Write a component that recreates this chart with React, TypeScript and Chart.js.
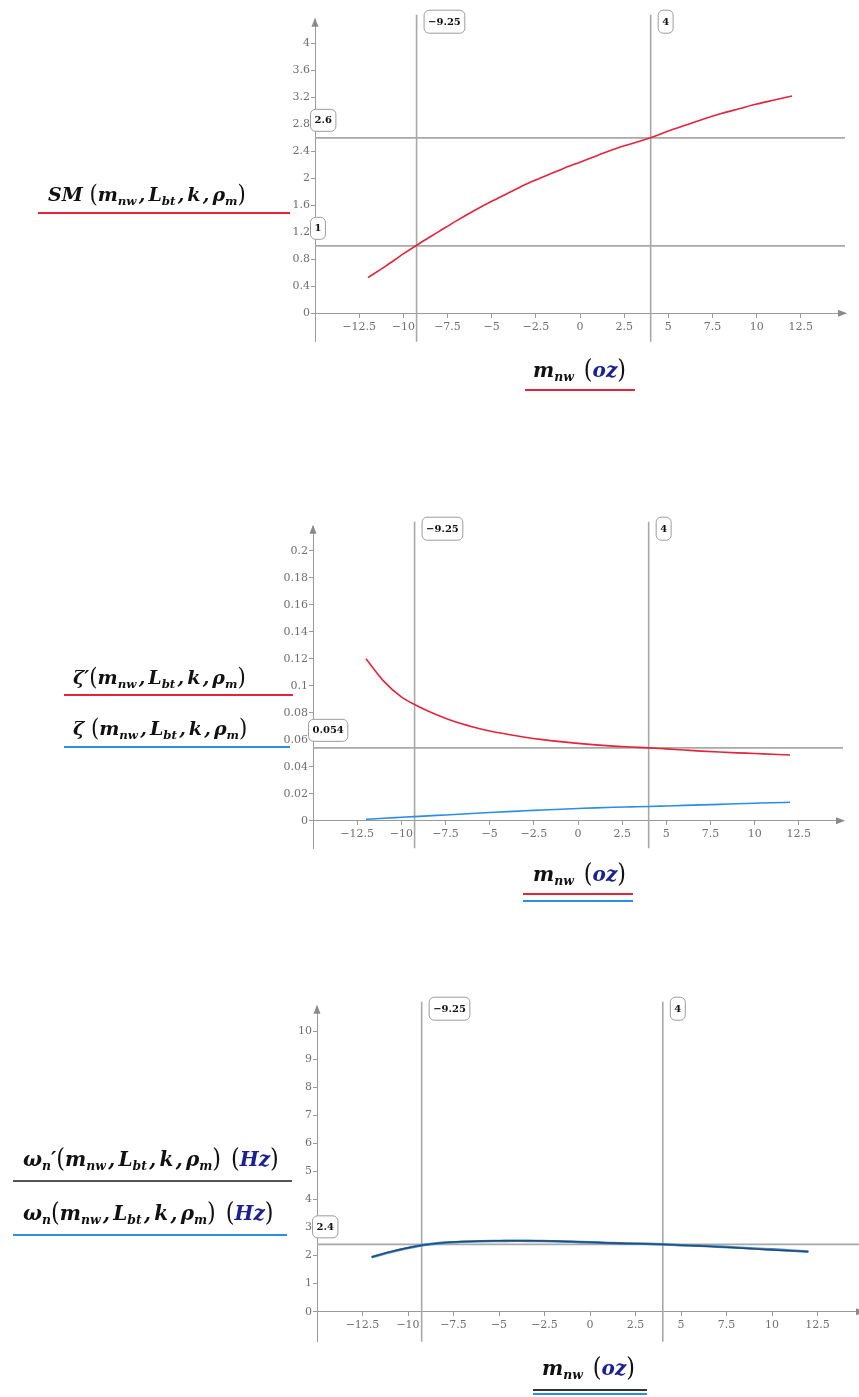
import React, { useEffect, useRef } from "react";
import { Chart, registerables } from "chart.js";

Chart.register(...registerables);

// ---------- data ----------
const M_NW = [-12, -11, -10, -9, -8, -7, -6, -5, -4, -3, -2, -1, 0, 1, 2, 3, 4, 5, 6, 7, 8, 9, 10, 11, 12];
const SM_VALUES = [0.53, 0.7, 0.88, 1.05, 1.21, 1.37, 1.52, 1.66, 1.79, 1.92, 2.03, 2.14, 2.24, 2.34, 2.44, 2.52, 2.6, 2.7, 2.79, 2.88, 2.96, 3.03, 3.1, 3.16, 3.22];
const ZETA_PRIME = [0.12, 0.1035, 0.0918, 0.0845, 0.0785, 0.0735, 0.0697, 0.0665, 0.0641, 0.0619, 0.0601, 0.0586, 0.0573, 0.0562, 0.0553, 0.0546, 0.054, 0.0532, 0.0524, 0.0516, 0.0509, 0.0503, 0.0498, 0.0492, 0.0487];
const ZETA = [0.001, 0.0018, 0.0025, 0.0032, 0.0039, 0.0046, 0.0053, 0.006, 0.0067, 0.0073, 0.0079, 0.0085, 0.009, 0.0095, 0.0099, 0.0102, 0.0105, 0.0109, 0.0113, 0.0117, 0.0121, 0.0125, 0.0129, 0.0133, 0.0136];
const OMEGA_PRIME = [1.95, 2.13, 2.28, 2.39, 2.46, 2.5, 2.52, 2.53, 2.53, 2.53, 2.52, 2.5, 2.48, 2.45, 2.43, 2.42, 2.4, 2.37, 2.34, 2.31, 2.28, 2.24, 2.2, 2.17, 2.14];
const OMEGA = [1.94, 2.12, 2.27, 2.39, 2.46, 2.49, 2.51, 2.52, 2.53, 2.52, 2.51, 2.49, 2.47, 2.45, 2.43, 2.42, 2.4, 2.37, 2.35, 2.32, 2.29, 2.25, 2.22, 2.18, 2.14];

const X_TICKS = [-12.5, -10, -7.5, -5, -2.5, 0, 2.5, 5, 7.5, 10, 12.5];
const Y1_TICKS = [0, 0.4, 0.8, 1.2, 1.6, 2, 2.4, 2.8, 3.2, 3.6, 4];
const Y2_TICKS = [0, 0.02, 0.04, 0.06, 0.08, 0.1, 0.12, 0.14, 0.16, 0.18, 0.2];
const Y3_TICKS = [0, 1, 2, 3, 4, 5, 6, 7, 8, 9, 10];

const X_MARKERS = [-9.25, 4];
const Y1_MARKERS = [2.6, 1];
const Y2_MARKERS = [0.054];
const Y3_MARKERS = [2.4];

// ---------- styles ----------
const RED = "#e3243b";
const BLUE = "#2a8ee6";
const DARK = "#39455a";
const AXIS = "#9a9a9a";
const TICK_TEXT = "#6f6f6f";
const SERIF = "'DejaVu Serif', serif";
const CANVAS_W = 880;
const Y_AXIS_W = 60;

function fmt(v: number): string {
  return v < 0 ? "\u2212" + String(Math.abs(v)) : String(v);
}

function pts(ys: number[]) {
  return M_NW.map((x, i) => ({ x, y: ys[i] }));
}

function drawBox(ctx: CanvasRenderingContext2D, text: string, left: number, top: number, h: number) {
  const w = ctx.measureText(text).width + 8;
  ctx.beginPath();
  (ctx as any).roundRect(left + 0.5, top + 0.5, w, h, 5);
  ctx.fillStyle = "#ffffff";
  ctx.fill();
  ctx.strokeStyle = "#9c9c9c";
  ctx.lineWidth = 1;
  ctx.stroke();
  ctx.fillStyle = "#111111";
  ctx.fillText(text, left + 0.5 + w / 2, top + h / 2 + 1);
}

const overlayPlugin = {
  id: "overlay",
  beforeDatasetsDraw(chart: any, _a: any, opts: any) {
    const { ctx, chartArea: a, scales } = chart;
    ctx.save();
    ctx.strokeStyle = "#a8a8a8";
    ctx.lineWidth = 1.6;
    for (const v of opts.xMarkers) {
      const px = scales.x.getPixelForValue(v);
      ctx.beginPath();
      ctx.moveTo(px, a.top - 5);
      ctx.lineTo(px, a.bottom);
      ctx.stroke();
    }
    for (const v of opts.yMarkers) {
      const py = scales.y.getPixelForValue(v);
      ctx.beginPath();
      ctx.moveTo(a.left, py);
      ctx.lineTo(a.right, py);
      ctx.stroke();
    }
    ctx.restore();
  },
  afterDraw(chart: any, _a: any, opts: any) {
    const { ctx, chartArea: a, scales } = chart;
    const y0 = scales.y.getPixelForValue(0);
    ctx.save();
    ctx.fillStyle = "#8a8a8a";
    ctx.beginPath();
    ctx.moveTo(a.left, a.top - 2);
    ctx.lineTo(a.left - 3.5, a.top + 7);
    ctx.lineTo(a.left + 3.5, a.top + 7);
    ctx.closePath();
    ctx.fill();
    ctx.beginPath();
    ctx.moveTo(a.right + 2, y0);
    ctx.lineTo(a.right - 7, y0 - 3.5);
    ctx.lineTo(a.right - 7, y0 + 3.5);
    ctx.closePath();
    ctx.fill();
    ctx.font = "bold 10px " + SERIF;
    ctx.textAlign = "center";
    ctx.textBaseline = "middle";
    for (const v of opts.xMarkers) {
      const px = scales.x.getPixelForValue(v);
      drawBox(ctx, fmt(v), px + 7, a.top - 10, 23);
    }
    for (const v of opts.yMarkers) {
      const py = scales.y.getPixelForValue(v);
      drawBox(ctx, fmt(v), a.left - 5, py - 29, 22);
    }
    ctx.restore();
  },
};

type Area = { left: number; right: number; top: number; bottom: number };
interface PanelSpec {
  canvasTop: number;
  canvasHeight: number;
  area: Area;
  yMin: number;
  yMax: number;
  yTicks: number[];
  yMarkers: number[];
  datasets: any[];
}

const line = (label: string, ys: number[], color: string, width: number) => ({
  label,
  data: pts(ys),
  borderColor: color,
  borderWidth: width,
  pointRadius: 0,
  fill: false,
  cubicInterpolationMode: "monotone",
});

const PANELS: PanelSpec[] = [
  {
    canvasTop: 0,
    canvasHeight: 400,
    area: { left: 315, right: 845, top: 19.7, bottom: 341.7 },
    yMin: -0.42,
    yMax: 4.35,
    yTicks: Y1_TICKS,
    yMarkers: Y1_MARKERS,
    datasets: [line("SM", SM_VALUES, RED, 1.6)],
  },
  {
    canvasTop: 470,
    canvasHeight: 420,
    area: { left: 313, right: 843, top: 526.7, bottom: 848.3 },
    yMin: -0.0205,
    yMax: 0.218,
    yTicks: Y2_TICKS,
    yMarkers: Y2_MARKERS,
    datasets: [line("ζ′", ZETA_PRIME, RED, 1.6), line("ζ", ZETA, BLUE, 1.6)],
  },
  {
    canvasTop: 960,
    canvasHeight: 437,
    area: { left: 317, right: 863, top: 1006.7, bottom: 1341.7 },
    yMin: -1.07,
    yMax: 10.87,
    yTicks: Y3_TICKS,
    yMarkers: Y3_MARKERS,
    datasets: [line("ωn′", OMEGA_PRIME, DARK, 1.4), line("ωn", OMEGA, BLUE, 2.6)],
  },
];

function Panel({ spec }: { spec: PanelSpec }) {
  const ref = useRef<HTMLCanvasElement>(null);
  useEffect(() => {
    const a = spec.area;
    const tickFont = { family: SERIF, size: 11 };
    const chart = new Chart(ref.current as HTMLCanvasElement, {
      type: "line",
      data: { datasets: spec.datasets },
      options: {
        responsive: false,
        animation: false,
        devicePixelRatio: 1,
        layout: {
          padding: {
            left: a.left - Y_AXIS_W,
            right: CANVAS_W - a.right,
            top: a.top - spec.canvasTop,
            bottom: spec.canvasTop + spec.canvasHeight - a.bottom,
          },
        },
        plugins: {
          legend: { display: false },
          tooltip: { enabled: false },
          overlay: { xMarkers: X_MARKERS, yMarkers: spec.yMarkers },
        } as any,
        scales: {
          x: {
            type: "linear",
            position: { y: 0 } as any,
            min: -15,
            max: 15,
            afterBuildTicks: (s: any) => {
              s.ticks = X_TICKS.map((value) => ({ value }));
            },
            ticks: {
              callback: (v: any) => fmt(Number(v)),
              color: TICK_TEXT,
              font: tickFont,
              padding: 3,
              maxRotation: 0,
              autoSkip: false,
            },
            grid: { drawOnChartArea: false, tickLength: 4, color: AXIS },
            border: { color: AXIS, width: 1 },
          },
          y: {
            type: "linear",
            position: "left",
            min: spec.yMin,
            max: spec.yMax,
            afterBuildTicks: (s: any) => {
              s.ticks = spec.yTicks.map((value) => ({ value }));
            },
            afterFit: (s: any) => {
              s.width = Y_AXIS_W;
            },
            ticks: {
              callback: (v: any) => fmt(Number(v)),
              color: TICK_TEXT,
              font: tickFont,
              padding: 1,
              autoSkip: false,
            },
            grid: { drawOnChartArea: false, tickLength: 4, color: AXIS },
            border: { color: AXIS, width: 1 },
          },
        },
      } as any,
      plugins: [overlayPlugin as any],
    });
    return () => chart.destroy();
  }, [spec]);
  return (
    <canvas
      ref={ref}
      width={CANVAS_W}
      height={spec.canvasHeight}
      style={{ position: "absolute", left: 0, top: spec.canvasTop, width: CANVAS_W, height: spec.canvasHeight }}
    />
  );
}

// ---------- math labels ----------
const Sub = ({ t }: { t: string }) => (
  <span style={{ fontSize: "0.62em", position: "relative", top: "0.32em" }}>{t}</span>
);
const Paren = ({ t }: { t: string }) => (
  <span style={{ fontStyle: "normal", fontWeight: 400, fontSize: "1.12em", display: "inline-block", transform: "scaleY(1.15)" }}>{t}</span>
);
const Sep = () => <span style={{ margin: "0 0.16em 0 0.12em" }}>,</span>;
const Unit = ({ t }: { t: string }) => (
  <>
    <Paren t="(" />
    <span style={{ color: "#1c2190" }}>{t}</span>
    <Paren t=")" />
  </>
);
const Args = () => (
  <>
    <Paren t="(" />
    m<Sub t="nw" />
    <Sep />L<Sub t="bt" />
    <Sep />k<Sep />ρ<Sub t="m" />
    <Paren t=")" />
  </>
);

function MathText({ left, baseline, size, children }: { left: number; baseline: number; size: number; children: any }) {
  return (
    <div
      style={{
        position: "absolute",
        left,
        top: baseline - size * 0.846,
        fontFamily: SERIF,
        fontWeight: 700,
        fontStyle: "italic",
        fontSize: size,
        lineHeight: `${size}px`,
        whiteSpace: "nowrap",
        color: "#111",
      }}
    >
      {children}
    </div>
  );
}

function Rule({ x1, x2, y, color }: { x1: number; x2: number; y: number; color: string }) {
  return <div style={{ position: "absolute", left: x1, top: y - 1, width: x2 - x1, height: 2, background: color }} />;
}

const XLabel = ({ left, baseline }: { left: number; baseline: number }) => (
  <MathText left={left} baseline={baseline} size={20}>
    m<Sub t="nw" />
    <span style={{ marginLeft: "0.5em" }} />
    <Unit t="oz" />
  </MathText>
);

export default function App() {
  return (
    <div style={{ position: "absolute", left: 0, top: 0, width: 859, height: 1397, overflow: "hidden", background: "#fff" }}>
      {PANELS.map((p, i) => (
        <Panel key={i} spec={p} />
      ))}

      {/* chart 1 */}
      <MathText left={48} baseline={200} size={19}>
        SM <Args />
      </MathText>
      <Rule x1={38} x2={290} y={213} color={RED} />
      <XLabel left={533} baseline={376} />
      <Rule x1={525} x2={635} y={390} color={RED} />

      {/* chart 2 */}
      <MathText left={73} baseline={683} size={19}>
        ζ′<Args />
      </MathText>
      <Rule x1={64} x2={293} y={695} color={RED} />
      <MathText left={73} baseline={734} size={19}>
        ζ <Args />
      </MathText>
      <Rule x1={64} x2={290} y={747} color={BLUE} />
      <XLabel left={533} baseline={880} />
      <Rule x1={523} x2={633} y={894} color={RED} />
      <Rule x1={523} x2={633} y={901} color={BLUE} />

      {/* chart 3 */}
      <MathText left={23} baseline={1165} size={20}>
        ω<Sub t="n" />′<Args />
        <span style={{ marginLeft: "0.5em" }} />
        <Unit t="Hz" />
      </MathText>
      <Rule x1={13} x2={292} y={1181} color="#555" />
      <MathText left={23} baseline={1219} size={20}>
        ω<Sub t="n" />
        <Args />
        <span style={{ marginLeft: "0.5em" }} />
        <Unit t="Hz" />
      </MathText>
      <Rule x1={13} x2={287} y={1235} color={BLUE} />
      <XLabel left={542} baseline={1374} />
      <Rule x1={533} x2={647} y={1390} color="#333" />
      <Rule x1={533} x2={647} y={1394} color={BLUE} />
    </div>
  );
}
